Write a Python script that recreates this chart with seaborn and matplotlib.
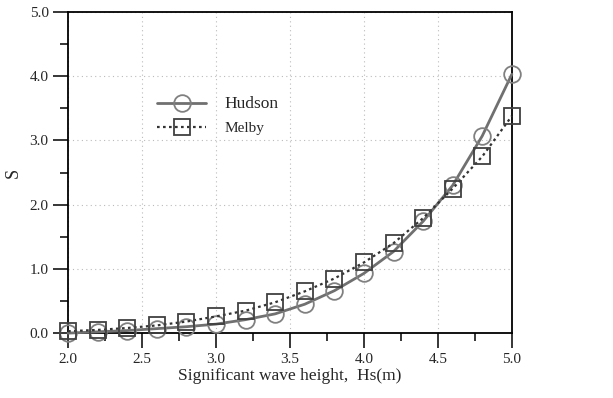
import numpy as np
import pandas as pd
import matplotlib
matplotlib.use("Agg")
import matplotlib.pyplot as plt
import seaborn as sns
from matplotlib.ticker import MultipleLocator, FormatStrFormatter

# data
wave_height = [2.0, 2.2, 2.4, 2.6, 2.8, 3.0, 3.2, 3.4, 3.6, 3.8, 4.0, 4.2, 4.4, 4.6, 4.8, 5.0]
hudson = [0.0, 0.02, 0.04, 0.07, 0.10, 0.14, 0.21, 0.30, 0.45, 0.66, 0.93, 1.27, 1.74, 2.30, 3.07, 4.03]
melby = [0.03, 0.05, 0.08, 0.12, 0.18, 0.26, 0.35, 0.48, 0.65, 0.85, 1.10, 1.40, 1.79, 2.25, 2.75, 3.38]

df = pd.DataFrame({"Hs": wave_height, "Hudson": hudson, "Melby": melby})

sns.set_style("white")
plt.rcParams['font.family'] = ['Liberation Serif', 'DejaVu Serif']

fig = plt.figure(figsize=(6.13, 3.98), dpi=100)
ax = fig.add_axes([0.111, 0.163, 0.724, 0.807])

sns.lineplot(data=df, x="Hs", y="Hudson", ax=ax, color="#707070", linewidth=2,
             marker="o", markersize=12, markerfacecolor="none",
             markeredgecolor="#808080", markeredgewidth=1.3, label="Hudson",
             clip_on=False, zorder=4)
sns.lineplot(data=df, x="Hs", y="Melby", ax=ax, color="#333333", linewidth=1.6,
             linestyle=(0, (1.2, 1.5)), marker="s", markersize=11.5,
             markerfacecolor="none", markeredgecolor="#404040",
             markeredgewidth=1.3, label="Melby", clip_on=False, zorder=4)

ax.set_xlim(2.0, 5.0)
ax.set_ylim(0.0, 5.0)
ax.xaxis.set_major_locator(MultipleLocator(0.5))
ax.xaxis.set_minor_locator(MultipleLocator(0.25))
ax.yaxis.set_major_locator(MultipleLocator(1.0))
ax.yaxis.set_minor_locator(MultipleLocator(0.5))
ax.xaxis.set_major_formatter(FormatStrFormatter('%.1f'))
ax.yaxis.set_major_formatter(FormatStrFormatter('%.1f'))
ax.tick_params(which='major', direction='out', length=11, width=1.3, labelsize=11,
               bottom=True, left=True, pad=3)
ax.tick_params(which='minor', direction='out', length=5.5, width=1.3,
               bottom=True, left=True)

ax.grid(True, which='major', linestyle=(0, (1, 3)), color='#bbbbbb', linewidth=0.8)
for s in ax.spines.values():
    s.set_linewidth(1.3)
    s.set_color('black')
    s.set_zorder(3)

ax.set_xlabel("Significant wave height,  Hs(m)", fontsize=12.5, labelpad=2)
ax.set_ylabel("S", fontsize=13)
ax.yaxis.set_label_coords(-0.105, 0.5)

leg = ax.legend(loc='upper left', bbox_to_anchor=(0.17, 0.78), frameon=False,
                handlelength=3.2, handletextpad=1.2, labelspacing=0.6, fontsize=11)
leg.get_texts()[0].set_fontsize(12.5)
leg.get_texts()[1].set_fontsize(11)

fig.savefig("out.png", dpi=100)
